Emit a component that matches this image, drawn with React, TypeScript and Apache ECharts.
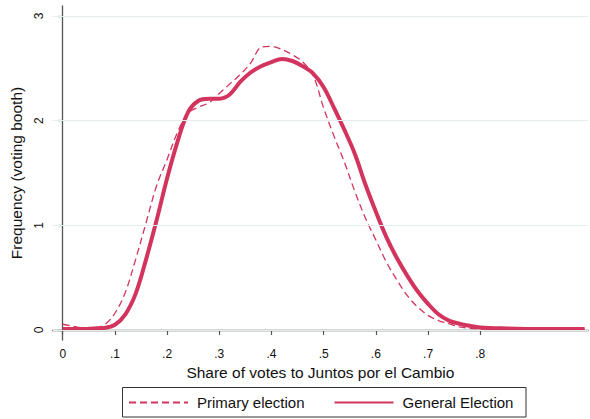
import React, { useEffect, useRef } from "react";
import * as echarts from "echarts";

const xValues = [
  0, 0.02, 0.04, 0.06, 0.08, 0.1, 0.12, 0.14, 0.16, 0.18, 0.2, 0.22, 0.24, 0.26, 0.28, 0.3,
  0.32, 0.34, 0.36, 0.38, 0.4, 0.42, 0.44, 0.46, 0.48, 0.5, 0.52, 0.54, 0.56, 0.58, 0.6,
  0.62, 0.64, 0.66, 0.68, 0.7, 0.72, 0.74, 0.76, 0.78, 0.8, 0.85, 0.9, 0.95, 1.0,
];
const generalElection = [
  0.01, 0.01, 0.01, 0.015, 0.02, 0.05, 0.15, 0.35, 0.68, 1.05, 1.45, 1.8, 2.08, 2.19, 2.21, 2.21,
  2.25, 2.37, 2.46, 2.52, 2.56, 2.59, 2.57, 2.52, 2.45, 2.32, 2.12, 1.91, 1.68, 1.39, 1.13,
  0.89, 0.69, 0.52, 0.37, 0.25, 0.15, 0.09, 0.06, 0.04, 0.025, 0.015, 0.01, 0.01, 0.01,
];
const primaryElection = [
  0.055, 0.035, 0.02, 0.02, 0.05, 0.16, 0.36, 0.68, 1.03, 1.38, 1.63, 1.89, 2.07, 2.13, 2.17, 2.26,
  2.35, 2.44, 2.55, 2.7, 2.71, 2.68, 2.63, 2.56, 2.43, 2.12, 1.85, 1.6, 1.32, 1.07, 0.86,
  0.65, 0.48, 0.33, 0.22, 0.14, 0.09, 0.06, 0.03, 0.015, 0.01, 0.006, 0.005, 0.005, 0.005,
];
const xTicks = [0, 0.1, 0.2, 0.3, 0.4, 0.5, 0.6, 0.7, 0.8];
const yTicks = [0, 1, 2, 3];

const FONT = "'Liberation Sans', Arial, Helvetica, sans-serif";
const RED = "#d2345e";

export default function App() {
  const ref = useRef<HTMLDivElement>(null);
  useEffect(() => {
    if (!ref.current) return;
    const chart = echarts.init(ref.current, null, { renderer: "svg" });
    const pair = (ys: number[]) => xValues.map((x, i) => [x, ys[i]]);
    chart.setOption({
      animation: false,
      backgroundColor: "#ffffff",
      textStyle: { fontFamily: FONT },
      grid: { left: 52.7, right: 2, top: 6, bottom: 79, containLabel: false },
      xAxis: {
        type: "value",
        min: -0.0192,
        max: 1.0065,
        name: "Share of votes to Juntos por el Cambio",
        nameLocation: "middle",
        nameGap: 20,
        nameTextStyle: { fontSize: 15.5, color: "#111", fontFamily: FONT, verticalAlign: "top" },
        axisLine: { show: true, lineStyle: { color: "#555", width: 1.3 } },
        axisTick: { show: true, length: 5, customValues: xTicks, lineStyle: { color: "#555", width: 1.2 } },
        axisLabel: {
          customValues: xTicks,
          margin: 8,
          fontSize: 12,
          color: "#111",
          fontFamily: FONT,
          formatter: (v: number) => (v === 0 ? "0" : v.toFixed(1).replace(/^0/, "")),
        },
        splitLine: { show: false },
      },
      yAxis: {
        type: "value",
        min: -0.0955,
        max: 3.0955,
        name: "Frequency (voting booth)",
        nameLocation: "middle",
        nameGap: 23,
        nameTextStyle: { fontSize: 15.5, color: "#111", fontFamily: FONT },
        axisLine: { show: true, lineStyle: { color: "#555", width: 1.3 } },
        axisTick: { show: true, length: 5, customValues: yTicks, lineStyle: { color: "#555", width: 1.2 } },
        axisLabel: {
          customValues: yTicks,
          rotate: 90,
          margin: 8,
          fontSize: 12,
          color: "#111",
          fontFamily: FONT,
          formatter: (v: number) => String(v),
        },
        splitLine: { show: false },
      },
      legend: {
        left: 128,
        top: 395,
        padding: 0,
        itemWidth: 59,
        itemHeight: 14,
        itemGap: 29,
        itemStyle: { opacity: 0 },
        textStyle: { fontSize: 15, color: "#111", fontFamily: FONT, padding: [0, 0, 0, 4] },
        data: ["Primary election", "General Election"],
      },
      graphic: [
        {
          type: "rect",
          shape: { x: 122.5, y: 387.5, width: 403.5, height: 29.5 },
          style: { fill: "none", stroke: "#333", lineWidth: 1 },
          silent: true,
        },
      ],
      series: [
        {
          name: "grid",
          type: "line",
          data: [],
          z: 0,
          silent: true,
          markLine: {
            silent: true,
            symbol: "none",
            label: { show: false },
            lineStyle: { color: "#e4ecee", width: 1, type: "solid" },
            data: yTicks.map((v) => ({ yAxis: v })),
          },
        },
        {
          name: "Primary election",
          type: "line",
          smooth: 0.35,
          showSymbol: false,
          symbol: "none",
          z: 2,
          data: pair(primaryElection),
          lineStyle: { color: RED, width: 1.3, type: [7, 4] },
          itemStyle: { color: RED },
        },
        {
          name: "General Election",
          type: "line",
          smooth: 0.35,
          showSymbol: false,
          symbol: "none",
          z: 3,
          data: pair(generalElection),
          lineStyle: { color: RED, width: 4 },
          itemStyle: { color: RED },
        },
      ],
    });
    return () => chart.dispose();
  }, []);
  return <div ref={ref} style={{ width: 590, height: 419, position: "absolute", left: 0, top: 0 }} />;
}
